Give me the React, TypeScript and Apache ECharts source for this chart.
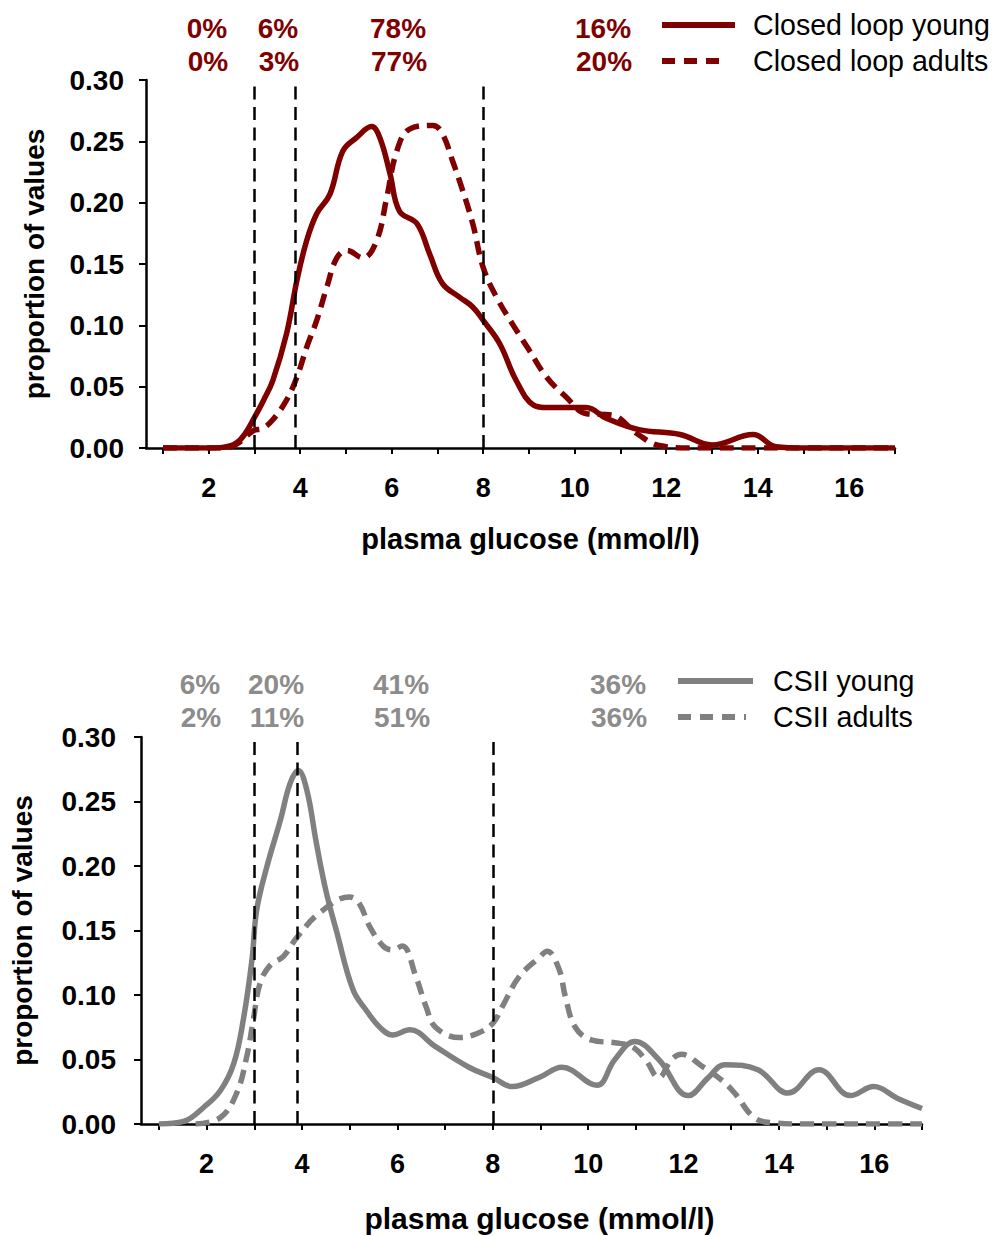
import React, { useEffect, useRef } from "react";
import * as echarts from "echarts";

// ---- data ----
const TICKS = [1, 2, 3, 4, 5, 6, 7, 8, 9, 10, 11, 12, 13, 14, 15, 16, 17];
const TICK_LABELS = [2, 4, 6, 8, 10, 12, 14, 16];
const THRESHOLDS = [3, 3.9, 8];

const clYoungX = [1, 2, 2.3, 2.6, 2.8, 3.0, 3.2, 3.4, 3.7, 3.93, 4.14, 4.36, 4.65, 4.93, 5.23, 5.56, 5.74, 5.96, 6.17, 6.55, 6.83, 7.11, 7.48, 7.77, 8.0, 8.36, 8.72, 9.1, 9.4, 9.75, 10.25, 10.7, 11.4, 12.3, 13.0, 13.9, 14.4, 15, 16, 17];
const clYoungY = [0, 0, 0.0005, 0.004, 0.012, 0.025, 0.039, 0.055, 0.093, 0.137, 0.169, 0.191, 0.207, 0.242, 0.253, 0.262, 0.253, 0.224, 0.193, 0.183, 0.158, 0.134, 0.123, 0.115, 0.104, 0.085, 0.055, 0.035, 0.033, 0.033, 0.033, 0.024, 0.015, 0.011, 0.0025, 0.011, 0.001, 0, 0, 0];

const clAdultX = [1, 2.3, 2.6, 2.97, 3.18, 3.4, 3.7, 3.93, 4.14, 4.36, 4.58, 4.8, 5.02, 5.37, 5.67, 5.89, 6.11, 6.39, 6.9, 7.11, 7.33, 7.55, 7.77, 8.0, 8.29, 8.64, 9.0, 9.38, 9.8, 10.26, 10.8, 11.35, 11.85, 12.5, 13, 14, 15, 16, 17];
const clAdultY = [0, 0, 0.003, 0.014, 0.016, 0.023, 0.039, 0.058, 0.082, 0.104, 0.131, 0.155, 0.161, 0.155, 0.169, 0.204, 0.242, 0.26, 0.263, 0.256, 0.234, 0.21, 0.183, 0.147, 0.123, 0.101, 0.08, 0.058, 0.042, 0.028, 0.027, 0.012, 0.002, 0, 0, 0, 0, 0, 0];

const csiiYoungX = [1, 1.52, 1.94, 2.29, 2.57, 2.77, 2.95, 3.05, 3.26, 3.55, 3.75, 3.92, 4.1, 4.3, 4.5, 4.72, 5.07, 5.35, 5.63, 5.9, 6.26, 6.8, 7.5, 8.0, 8.41, 8.97, 9.45, 10.18, 10.56, 10.98, 11.48, 12.1, 12.52, 12.86, 13.56, 14.19, 14.84, 15.5, 15.99, 16.48, 17];
const csiiYoungY = [0, 0.002, 0.013, 0.026, 0.047, 0.081, 0.127, 0.166, 0.199, 0.236, 0.264, 0.274, 0.259, 0.218, 0.181, 0.15, 0.104, 0.088, 0.075, 0.069, 0.073, 0.06, 0.044, 0.036, 0.029, 0.036, 0.044, 0.03, 0.05, 0.064, 0.05, 0.022, 0.036, 0.046, 0.042, 0.024, 0.042, 0.022, 0.029, 0.02, 0.012];

const csiiAdultX = [1.77, 2.29, 2.63, 2.84, 2.98, 3.12, 3.33, 3.61, 3.9, 4.38, 5.0, 5.2, 5.42, 5.7, 5.9, 6.1, 6.39, 6.6, 6.8, 7.3, 7.72, 8.0, 8.2, 8.55, 8.97, 9.14, 9.39, 9.52, 9.73, 10.08, 10.56, 10.92, 11.2, 11.48, 11.75, 11.96, 12.38, 12.8, 13.07, 13.48, 13.84, 14.5, 15, 16, 17];
const csiiAdultY = [0, 0.005, 0.024, 0.052, 0.081, 0.109, 0.123, 0.13, 0.145, 0.164, 0.176, 0.171, 0.153, 0.138, 0.135, 0.138, 0.114, 0.091, 0.075, 0.067, 0.071, 0.078, 0.091, 0.114, 0.129, 0.134, 0.12, 0.099, 0.075, 0.065, 0.063, 0.06, 0.05, 0.036, 0.05, 0.054, 0.045, 0.034, 0.024, 0.005, 0.001, 0, 0, 0, 0];

// percentages per range (<3, 3-3.9, 3.9-8, >8)
const clYoungPct = ["0%", "6%", "78%", "16%"];
const clAdultPct = ["0%", "3%", "77%", "20%"];
const csiiYoungPct = ["6%", "20%", "41%", "36%"];
const csiiAdultPct = ["2%", "11%", "51%", "36%"];

const RED = "#800000";
const GREY = "#808080";
const GREY_TEXT = "#8c8c8c";
const FONT = "'Liberation Sans', Arial, sans-serif";

const zip = (xs: number[], ys: number[]) => xs.map((x, i) => [x, ys[i]]);

function xAxisDef(gridIndex: number, min: number, nameGap: number, nameSize: number, shift: number) {
  return {
    gridIndex,
    type: "value",
    min,
    max: 17,
    axisLine: { show: true, onZero: false, lineStyle: { color: "#000", width: 2.5 } },
    axisTick: { show: true, customValues: TICKS, length: 6, inside: false, lineStyle: { color: "#000", width: 2 } },
    axisLabel: { customValues: TICK_LABELS, fontSize: 27, fontWeight: "bold", color: "#000", margin: 26, fontFamily: FONT },
    splitLine: { show: false },
    name: "plasma glucose (mmol/l)",
    nameLocation: "middle",
    nameGap,
    nameTextStyle: { fontSize: nameSize, fontWeight: "bold", color: "#000", fontFamily: FONT, padding: [0, 0, 0, shift] },
  };
}

function yAxisDef(gridIndex: number, nameGap: number, margin: number) {
  return {
    gridIndex,
    type: "value",
    min: 0,
    max: 0.3,
    interval: 0.05,
    axisLine: { show: true, lineStyle: { color: "#000", width: 2.5 } },
    axisTick: { show: true, length: 7, lineStyle: { color: "#000", width: 2 } },
    axisLabel: { formatter: (v: number) => v.toFixed(2), fontSize: 28, fontWeight: "bold", color: "#000", margin, fontFamily: FONT },
    splitLine: { show: false },
    name: "proportion of values",
    nameLocation: "middle",
    nameGap,
    nameTextStyle: { fontSize: 28, fontWeight: "bold", color: "#000", fontFamily: FONT },
  };
}

const markLines = {
  silent: true,
  symbol: "none",
  label: { show: false },
  lineStyle: { color: "#000", width: 2.5, type: [13, 7.5] },
  data: THRESHOLDS.map((t) => ({ xAxis: t })),
};

function pctText(x: number, y: number, text: string, color: string) {
  return {
    type: "text",
    x,
    y,
    style: { text, fill: color, font: `bold 28px ${FONT}`, textAlign: "center", textVerticalAlign: "middle" },
  };
}

function legendItem(x1: number, x2: number, y: number, tx: number, label: string, color: string, dashed: boolean) {
  return [
    {
      type: "line",
      shape: { x1, y1: y, x2, y2: y },
      style: { stroke: color, lineWidth: 6, lineDash: dashed ? [13, 9] : null },
    },
    {
      type: "text",
      x: tx,
      y,
      style: { text: label, fill: "#000", font: `28.6px ${FONT}`, textAlign: "left", textVerticalAlign: "middle" },
    },
  ];
}

export default function App() {
  const ref = useRef<HTMLDivElement>(null);
  useEffect(() => {
    document.body.style.margin = "0";
    const chart = echarts.init(ref.current!, null, { renderer: "svg" });
    const topPctX = [207, 278, 398, 603];
    const botPctX = [200, 276, 401, 618];
    const graphics: any[] = [];
    clYoungPct.forEach((t, i) => graphics.push(pctText(topPctX[i], 28, t, RED)));
    clAdultPct.forEach((t, i) => graphics.push(pctText(topPctX[i] + 1, 61, t, RED)));
    csiiYoungPct.forEach((t, i) => graphics.push(pctText(botPctX[i], 684, t, GREY_TEXT)));
    csiiAdultPct.forEach((t, i) => graphics.push(pctText(botPctX[i] + 1, 717, t, GREY_TEXT)));
    graphics.push(...legendItem(662, 735, 25, 753, "Closed loop young", RED, false));
    graphics.push(...legendItem(662, 728, 61, 753, "Closed loop adults", RED, true));
    graphics.push(...legendItem(678, 753, 681, 773, "CSII young", GREY, false));
    graphics.push(...legendItem(678, 746, 717, 773, "CSII adults", GREY, true));

    chart.setOption({
      animation: false,
      textStyle: { fontFamily: FONT },
      grid: [
        { left: 146, top: 80, width: 749, height: 368 },
        { left: 137, top: 737, width: 785, height: 387 },
      ],
      xAxis: [xAxisDef(0, 0.629, 76, 29, 20), xAxisDef(1, 0.624, 79, 30, 16)],
      yAxis: [yAxisDef(0, 98, 22), yAxisDef(1, 105, 25)],
      series: [
        {
          name: "Closed loop adults",
          type: "line",
          xAxisIndex: 0,
          yAxisIndex: 0,
          data: zip(clAdultX, clAdultY),
          smooth: 0.4,
          symbol: "none",
          lineStyle: { color: RED, width: 5.5, type: [14, 8] },
          markLine: markLines,
          z: 2,
        },
        {
          name: "Closed loop young",
          type: "line",
          xAxisIndex: 0,
          yAxisIndex: 0,
          data: zip(clYoungX, clYoungY),
          smooth: 0.4,
          symbol: "none",
          lineStyle: { color: RED, width: 5.5 },
          z: 3,
        },
        {
          name: "CSII adults",
          type: "line",
          xAxisIndex: 1,
          yAxisIndex: 1,
          data: zip(csiiAdultX, csiiAdultY),
          smooth: 0.4,
          symbol: "none",
          lineStyle: { color: GREY, width: 5.5, type: [14, 8] },
          markLine: markLines,
          z: 2,
        },
        {
          name: "CSII young",
          type: "line",
          xAxisIndex: 1,
          yAxisIndex: 1,
          data: zip(csiiYoungX, csiiYoungY),
          smooth: 0.4,
          symbol: "none",
          lineStyle: { color: GREY, width: 5.5 },
          z: 3,
        },
      ],
      graphic: graphics,
    });
    return () => chart.dispose();
  }, []);
  return <div ref={ref} style={{ width: 993, height: 1236 }} />;
}
